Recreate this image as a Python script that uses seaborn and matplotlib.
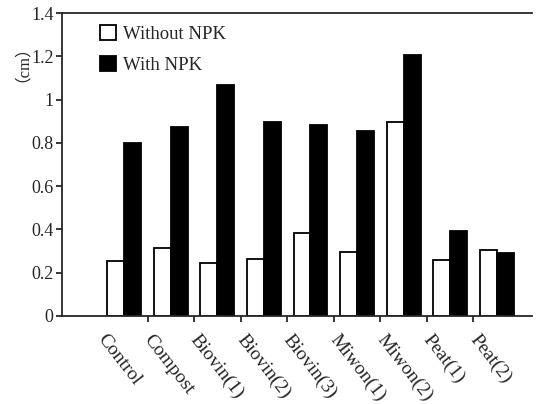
import pandas as pd
import seaborn as sns
import matplotlib.pyplot as plt
import matplotlib.transforms as mtransforms
from matplotlib.ticker import FixedLocator, FuncFormatter

# ==================== data ====================
categories = ['Control', 'Compost', 'Biovin(1)', 'Biovin(2)', 'Biovin(3)',
              'Miwon(1)', 'Miwon(2)', 'Peat(1)', 'Peat(2)']
without_npk = [0.255, 0.313, 0.243, 0.262, 0.382, 0.297, 0.898, 0.259, 0.305]
with_npk = [0.800, 0.875, 1.067, 0.895, 0.883, 0.855, 1.206, 0.394, 0.290]
series_names = ['Without NPK', 'With NPK']
y_ticks = [0, 0.2, 0.4, 0.6, 0.8, 1.0, 1.2, 1.4]

df = pd.DataFrame({
    'Treatment': categories * 2,
    'Length': without_npk + with_npk,
    'Series': [series_names[0]] * len(categories) + [series_names[1]] * len(categories),
})

# ==================== style ====================
sns.set_style('ticks')
plt.rcParams['font.family'] = ['Liberation Serif', 'Noto Sans CJK SC', 'DejaVu Sans']
plt.rcParams['axes.linewidth'] = 1.3

fig = plt.figure(figsize=(5.36, 4.04), dpi=100)
ax = fig.add_axes([62 / 536, 1 - 316 / 404, 470 / 536, 303 / 404])

sns.barplot(data=df, x='Treatment', y='Length', hue='Series', order=categories,
            hue_order=series_names, palette=['white', 'black'], edgecolor='black',
            linewidth=1.3, width=0.73, errorbar=None, ax=ax)

ax.set_xlim(-1.34, 8.76)
ax.set_ylim(0, 1.4)
ax.set_yticks(y_ticks)
ax.yaxis.set_major_formatter(FuncFormatter(lambda v, p: f'{v:g}'))
ax.tick_params(axis='y', direction='out', length=4, width=1.3, labelsize=13, pad=2)

# category labels at group centres, tick marks between groups
ax.set_xticks(range(len(categories)))
ax.set_xticklabels(categories, rotation=-52, ha='left', rotation_mode='anchor', fontsize=14)
ax.tick_params(axis='x', which='major', length=0, pad=11)
ax.xaxis.set_minor_locator(FixedLocator([i + 0.5 for i in range(len(categories) - 1)]))
ax.tick_params(axis='x', which='minor', direction='out', length=4, width=1.3)
shift = mtransforms.ScaledTranslation(-17 / 100, 0, fig.dpi_scale_trans)
for lbl in ax.get_xticklabels():
    lbl.set_transform(lbl.get_transform() + shift)

ax.set_xlabel('')
ax.set_ylabel('')
ax.spines['right'].set_visible(False)
fig.text(14 / 536, 1 - 55 / 404, '（cm）', rotation=90, ha='center', va='center', fontsize=12)

leg = ax.legend(loc='upper left', bbox_to_anchor=(0.065, 0.985), frameon=False,
                fontsize=13.5, handlelength=0.85, handleheight=0.85, handletextpad=0.4,
                labelspacing=0.7, borderaxespad=0)

fig.savefig('out.png', dpi=100)
